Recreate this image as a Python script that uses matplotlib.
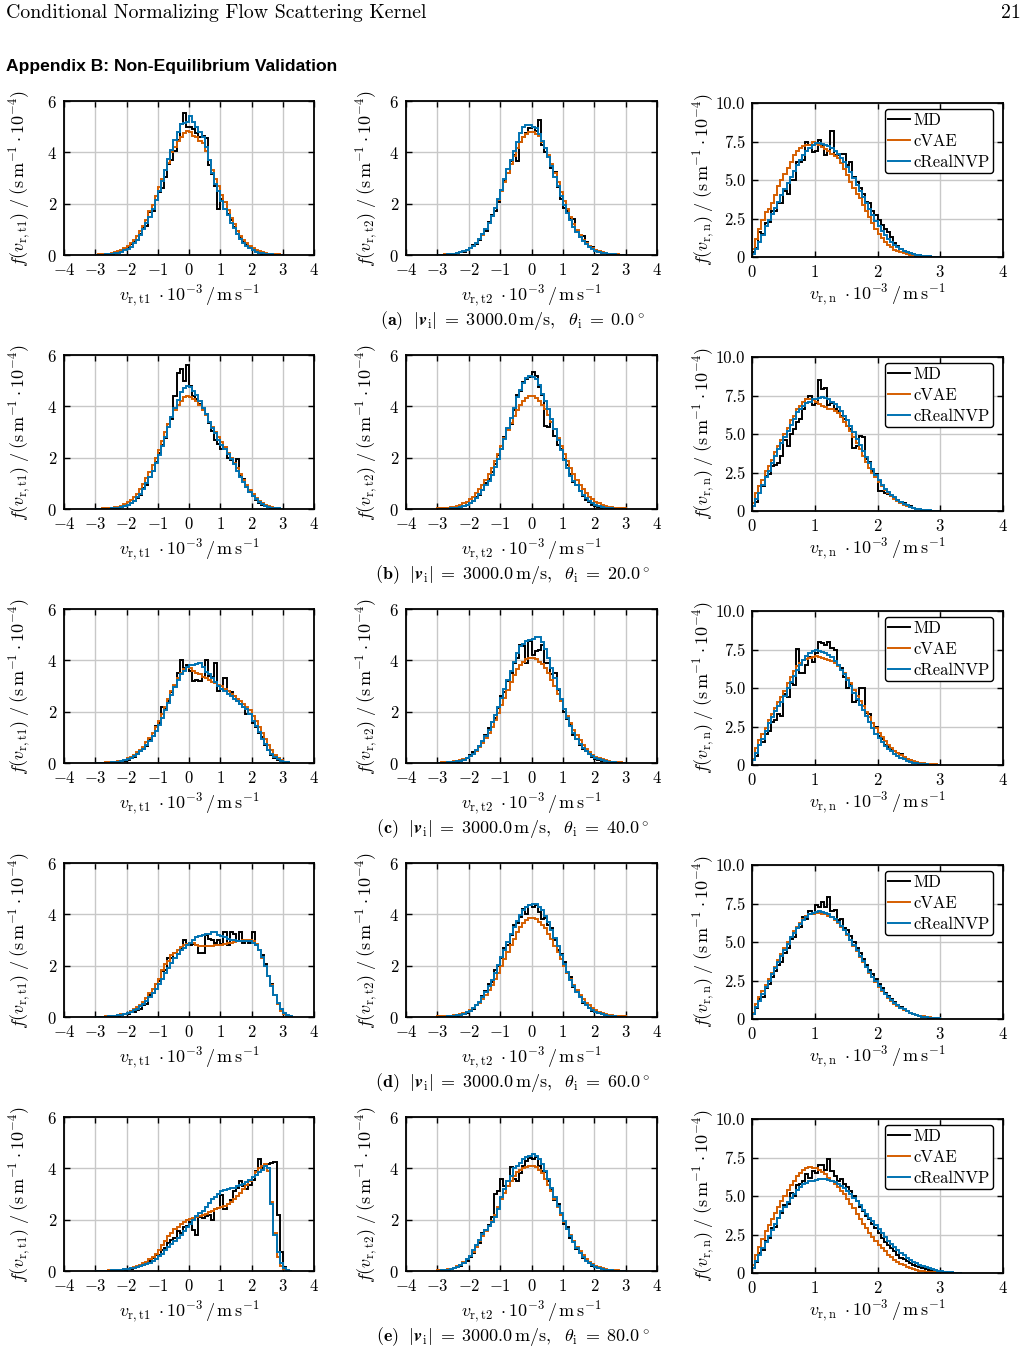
import numpy as np
import matplotlib
matplotlib.use("Agg")
import matplotlib.pyplot as plt
from matplotlib.lines import Line2D

plt.rcParams['font.family'] = ['cmr10', 'DejaVu Serif']
plt.rcParams['mathtext.fontset'] = 'cm'
plt.rcParams['axes.formatter.use_mathtext'] = True
plt.rcParams['axes.unicode_minus'] = True

# ---------------- data ----------------
# tangential components: bins of width 0.1 starting at -3.0 (units 1e3 m/s)
# normal component: bins of width 0.05 starting at 0.0
T_START, T_WIDTH = -3.0, 0.1
N_START, N_WIDTH = 0.0, 0.05

V_IN = 3000.0
THETAS = [0.0, 20.0, 40.0, 60.0, 80.0]
LETTERS = ['a', 'b', 'c', 'd', 'e']
SERIES = ['MD', 'cVAE', 'cRealNVP']

# ---- (a) theta = 0 ----
a_t1_md = [0.00, 0.01, 0.01, 0.02, 0.03, 0.05, 0.07, 0.12, 0.14, 0.22,
           0.30, 0.42, 0.55, 0.58, 0.80, 1.05, 1.12, 1.68, 1.70, 2.15,
           2.45, 2.60, 3.05, 3.55, 3.70, 4.05, 4.50, 5.10, 5.55, 5.00,
           5.00, 4.90, 4.75, 4.60, 4.65, 4.55, 3.50, 3.15, 2.70, 1.80,
           2.20, 2.05, 1.60, 1.35, 1.10, 0.95, 0.72, 0.50, 0.38, 0.32,
           0.20, 0.14, 0.08, 0.05, 0.03, 0.02, 0.01, 0.01, 0.00, 0.00]
a_t1_cvae = [0.01, 0.02, 0.03, 0.04, 0.05, 0.08, 0.11, 0.16, 0.20, 0.27,
             0.36, 0.46, 0.58, 0.74, 0.92, 1.13, 1.38, 1.70, 1.94, 2.30,
             2.65, 2.95, 3.30, 3.60, 4.00, 4.20, 4.45, 4.60, 4.75, 4.85,
             4.80, 4.65, 4.60, 4.45, 4.35, 4.05, 3.70, 3.30, 2.95, 2.70,
             2.35, 2.05, 1.75, 1.45, 1.20, 0.95, 0.75, 0.58, 0.46, 0.36,
             0.27, 0.20, 0.15, 0.11, 0.08, 0.05, 0.04, 0.03, 0.02, 0.01]
a_t1_nvp = [0.00, 0.01, 0.01, 0.02, 0.03, 0.04, 0.06, 0.09, 0.13, 0.18,
            0.25, 0.33, 0.45, 0.60, 0.78, 1.00, 1.25, 1.50, 1.80, 2.15,
            2.50, 2.90, 3.30, 3.75, 4.10, 4.50, 4.80, 5.10, 5.15, 5.20,
            5.40, 5.20, 5.00, 4.80, 4.60, 4.20, 3.70, 3.20, 2.75, 2.50,
            2.10, 1.80, 1.55, 1.25, 1.05, 0.80, 0.62, 0.48, 0.35, 0.26,
            0.19, 0.13, 0.09, 0.06, 0.04, 0.03, 0.02, 0.01, 0.01, 0.00]
a_t2_md = [0.00, 0.01, 0.01, 0.02, 0.03, 0.05, 0.07, 0.10, 0.13, 0.20,
           0.28, 0.38, 0.42, 0.60, 0.80, 0.95, 1.30, 1.55, 1.70, 2.05,
           2.55, 2.90, 3.20, 3.65, 3.90, 3.65, 4.40, 4.60, 4.75, 4.95,
           5.00, 4.85, 5.25, 4.30, 4.00, 3.85, 3.40, 3.25, 2.65, 2.20,
           1.85, 1.70, 1.45, 1.40, 0.95, 0.72, 0.75, 0.50, 0.35, 0.30,
           0.20, 0.14, 0.08, 0.07, 0.05, 0.03, 0.02, 0.01, 0.01, 0.00]
a_t2_cvae = [0.01, 0.01, 0.02, 0.02, 0.03, 0.05, 0.07, 0.10, 0.14, 0.20,
             0.27, 0.36, 0.47, 0.62, 0.79, 1.00, 1.25, 1.52, 1.82, 2.15,
             2.50, 2.85, 3.20, 3.55, 3.85, 4.15, 4.40, 4.60, 4.70, 4.80,
             4.80, 4.70, 4.65, 4.40, 4.15, 3.90, 3.55, 3.20, 2.85, 2.45,
             2.10, 1.80, 1.50, 1.22, 0.98, 0.78, 0.60, 0.47, 0.36, 0.27,
             0.20, 0.14, 0.10, 0.07, 0.05, 0.03, 0.02, 0.02, 0.01, 0.01]
a_t2_nvp = [0.00, 0.01, 0.01, 0.02, 0.03, 0.05, 0.07, 0.10, 0.14, 0.20,
            0.27, 0.37, 0.48, 0.63, 0.80, 1.00, 1.25, 1.52, 1.85, 2.20,
            2.55, 2.95, 3.35, 3.70, 4.05, 4.40, 4.75, 5.00, 5.05, 5.05,
            5.00, 4.95, 4.70, 4.45, 4.15, 3.80, 3.45, 3.05, 2.70, 2.30,
            1.95, 1.65, 1.35, 1.10, 0.90, 0.72, 0.56, 0.42, 0.32, 0.24,
            0.17, 0.12, 0.09, 0.06, 0.04, 0.03, 0.02, 0.01, 0.01, 0.00]
a_n_md = [0.30, 0.60, 1.60, 1.50, 2.20, 2.30, 3.00, 3.00, 3.50, 3.50,
          4.30, 4.10, 5.00, 5.00, 6.20, 6.20, 6.30, 7.50, 7.30, 6.80,
          6.90, 7.60, 7.20, 6.60, 6.90, 8.20, 6.60, 6.60, 6.70, 6.70,
          6.00, 6.20, 5.20, 4.90, 4.50, 4.10, 3.60, 3.50, 3.00, 2.70,
          2.40, 2.10, 1.80, 1.60, 1.30, 0.90, 0.70, 0.50, 0.40, 0.30,
          0.25, 0.20, 0.15, 0.10, 0.08, 0.05, 0.04, 0.03, 0.02, 0.01]
a_n_cvae = [0.50, 1.20, 1.80, 2.40, 2.90, 3.10, 3.50, 4.00, 4.60, 5.00,
            5.40, 5.80, 6.20, 6.60, 6.90, 7.10, 7.20, 7.25, 7.30, 7.50,
            7.35, 7.30, 7.15, 7.00, 6.90, 6.70, 6.55, 6.40, 6.10, 5.70,
            5.30, 4.90, 4.50, 4.10, 3.80, 3.40, 3.00, 2.60, 2.20, 1.85,
            1.50, 1.25, 1.00, 0.80, 0.62, 0.48, 0.38, 0.30, 0.23, 0.17,
            0.13, 0.10, 0.07, 0.05, 0.04, 0.03, 0.02, 0.01, 0.01, 0.00]
a_n_nvp = [0.20, 0.50, 1.00, 1.40, 2.00, 2.40, 2.80, 3.20, 3.60, 4.00,
           4.40, 4.80, 5.20, 5.60, 6.00, 6.30, 6.60, 6.90, 7.10, 7.30,
           7.40, 7.40, 7.35, 7.30, 7.20, 7.10, 6.90, 6.70, 6.45, 6.20,
           5.85, 5.50, 5.10, 4.70, 4.30, 3.90, 3.50, 3.10, 2.70, 2.35,
           2.00, 1.70, 1.45, 1.20, 1.00, 0.80, 0.65, 0.52, 0.40, 0.31,
           0.24, 0.18, 0.13, 0.10, 0.07, 0.05, 0.04, 0.03, 0.02, 0.01]

# ---- (b) theta = 20 ----
b_t1_md = [0.00, 0.00, 0.00, 0.01, 0.01, 0.02, 0.03, 0.04, 0.07, 0.10,
           0.14, 0.22, 0.30, 0.42, 0.55, 0.80, 0.95, 1.25, 1.50, 1.85,
           2.20, 2.50, 2.75, 3.30, 3.50, 4.40, 5.30, 5.45, 5.00, 5.60,
           4.80, 4.40, 4.30, 4.10, 3.90, 3.70, 3.35, 3.05, 2.70, 2.55,
           2.35, 2.40, 2.00, 1.90, 1.80, 1.95, 1.30, 1.15, 0.85, 0.65,
           0.50, 0.35, 0.24, 0.17, 0.10, 0.06, 0.04, 0.02, 0.01, 0.00]
b_t1_cvae = [0.01, 0.01, 0.02, 0.02, 0.03, 0.04, 0.06, 0.09, 0.13, 0.19,
             0.26, 0.35, 0.46, 0.60, 0.77, 0.97, 1.20, 1.45, 1.72, 2.00,
             2.30, 2.65, 3.00, 3.30, 3.60, 3.85, 4.05, 4.20, 4.35, 4.40,
             4.35, 4.30, 4.20, 4.05, 3.85, 3.65, 3.40, 3.20, 3.00, 2.80,
             2.60, 2.40, 2.20, 2.00, 1.80, 1.58, 1.35, 1.12, 0.92, 0.74,
             0.57, 0.43, 0.31, 0.22, 0.15, 0.10, 0.06, 0.04, 0.02, 0.01]
b_t1_nvp = [0.00, 0.00, 0.00, 0.01, 0.01, 0.02, 0.03, 0.05, 0.08, 0.12,
            0.17, 0.24, 0.33, 0.45, 0.60, 0.78, 1.00, 1.25, 1.50, 1.80,
            2.10, 2.45, 2.80, 3.20, 3.60, 3.95, 4.25, 4.55, 4.70, 4.80,
            4.75, 4.60, 4.45, 4.20, 3.95, 3.70, 3.40, 3.15, 2.95, 2.70,
            2.50, 2.35, 2.15, 1.95, 1.75, 1.50, 1.25, 1.05, 0.85, 0.68,
            0.52, 0.38, 0.27, 0.18, 0.12, 0.08, 0.05, 0.03, 0.02, 0.01]
b_t2_md = [0.00, 0.00, 0.01, 0.01, 0.02, 0.03, 0.04, 0.06, 0.10, 0.14,
           0.22, 0.30, 0.45, 0.55, 0.75, 1.00, 1.15, 1.45, 1.75, 2.10,
           2.35, 2.80, 3.10, 3.30, 3.85, 4.45, 4.60, 4.95, 5.05, 5.15,
           5.35, 5.20, 4.75, 4.45, 3.25, 3.20, 3.40, 2.85, 2.50, 2.35,
           1.95, 1.70, 1.35, 1.05, 0.95, 0.70, 0.50, 0.36, 0.28, 0.17,
           0.12, 0.08, 0.05, 0.03, 0.02, 0.01, 0.01, 0.00, 0.00, 0.00]
b_t2_cvae = [0.02, 0.02, 0.04, 0.05, 0.07, 0.09, 0.12, 0.17, 0.22, 0.29,
             0.38, 0.48, 0.61, 0.76, 0.93, 1.13, 1.36, 1.61, 1.87, 2.16,
             2.46, 2.76, 3.06, 3.35, 3.62, 3.86, 4.07, 4.22, 4.34, 4.39,
             4.39, 4.34, 4.22, 4.07, 3.90, 3.68, 3.40, 3.10, 2.78, 2.46,
             2.16, 1.87, 1.61, 1.36, 1.13, 0.93, 0.76, 0.61, 0.48, 0.38,
             0.29, 0.22, 0.17, 0.12, 0.09, 0.07, 0.05, 0.04, 0.02, 0.02]
b_t2_nvp = [0.00, 0.00, 0.01, 0.01, 0.02, 0.03, 0.05, 0.08, 0.12, 0.17,
            0.24, 0.33, 0.44, 0.58, 0.75, 0.95, 1.10, 1.32, 1.62, 1.95,
            2.33, 2.73, 3.15, 3.55, 3.95, 4.35, 4.65, 4.90, 5.10, 5.20,
            5.15, 5.05, 4.85, 4.50, 4.20, 3.90, 3.50, 3.10, 2.70, 2.30,
            1.92, 1.60, 1.30, 1.10, 0.92, 0.72, 0.55, 0.41, 0.30, 0.22,
            0.15, 0.10, 0.07, 0.05, 0.03, 0.02, 0.01, 0.01, 0.00, 0.00]
b_n_md = [0.30, 0.60, 1.60, 1.60, 2.30, 2.40, 2.90, 3.00, 3.10, 3.60,
          4.60, 4.20, 5.00, 5.30, 5.80, 6.00, 6.60, 7.30, 7.50, 6.90,
          7.00, 8.50, 7.90, 8.00, 6.90, 7.00, 6.60, 6.50, 6.20, 6.00,
          5.50, 5.30, 4.10, 4.20, 4.90, 4.80, 3.40, 3.20, 2.60, 2.40,
          1.30, 1.30, 1.20, 1.10, 1.00, 0.85, 0.70, 0.60, 0.50, 0.40,
          0.30, 0.22, 0.16, 0.12, 0.08, 0.05, 0.03, 0.02, 0.01, 0.01]
b_n_cvae = [0.50, 1.20, 1.60, 2.00, 2.60, 2.90, 3.30, 3.80, 4.20, 4.60,
            5.00, 5.40, 5.90, 6.20, 6.60, 6.80, 7.10, 7.30, 7.30, 7.20,
            7.05, 6.95, 6.85, 6.75, 6.65, 6.60, 6.50, 6.35, 6.10, 5.80,
            5.50, 5.20, 4.80, 4.40, 4.00, 3.60, 3.20, 2.80, 2.50, 2.20,
            1.90, 1.60, 1.35, 1.15, 0.95, 0.78, 0.63, 0.50, 0.40, 0.31,
            0.24, 0.18, 0.13, 0.10, 0.07, 0.05, 0.03, 0.02, 0.02, 0.01]
b_n_nvp = [0.30, 0.80, 1.20, 1.70, 2.20, 2.60, 3.10, 3.60, 4.00, 4.40,
           4.80, 5.20, 5.60, 6.00, 6.40, 6.60, 6.80, 7.00, 7.10, 7.25,
           7.30, 7.35, 7.40, 7.35, 7.25, 7.10, 6.95, 6.75, 6.50, 6.20,
           5.90, 5.50, 5.10, 4.70, 4.30, 3.90, 3.50, 3.10, 2.70, 2.35,
           2.00, 1.70, 1.45, 1.25, 1.05, 0.88, 0.72, 0.58, 0.46, 0.36,
           0.28, 0.21, 0.16, 0.12, 0.09, 0.06, 0.04, 0.03, 0.02, 0.01]

# ---- (c) theta = 40 ----
c_t1_md = [0.00, 0.00, 0.00, 0.00, 0.01, 0.01, 0.02, 0.04, 0.06, 0.09,
           0.13, 0.18, 0.25, 0.34, 0.45, 0.55, 0.68, 0.92, 1.05, 1.45,
           1.55, 2.20, 2.10, 2.40, 2.75, 3.00, 3.50, 4.00, 3.70, 3.80,
           3.60, 3.20, 3.25, 3.20, 3.35, 4.00, 3.40, 3.35, 3.90, 2.80,
           2.90, 3.30, 2.80, 2.75, 2.60, 2.40, 2.30, 2.20, 1.90, 1.90,
           1.55, 1.40, 1.15, 1.00, 0.70, 0.50, 0.33, 0.20, 0.12, 0.07,
           0.04, 0.02]
c_t1_cvae = [0.01, 0.01, 0.01, 0.02, 0.02, 0.03, 0.04, 0.06, 0.09, 0.13,
             0.18, 0.24, 0.32, 0.41, 0.52, 0.64, 0.80, 0.98, 1.18, 1.40,
             1.65, 1.92, 2.20, 2.50, 2.80, 3.05, 3.30, 3.50, 3.65, 3.75,
             3.70, 3.60, 3.50, 3.45, 3.35, 3.30, 3.25, 3.15, 3.10, 3.05,
             3.00, 2.90, 2.80, 2.70, 2.60, 2.50, 2.40, 2.30, 2.20, 2.05,
             1.85, 1.62, 1.40, 1.18, 0.95, 0.72, 0.50, 0.32, 0.18, 0.10,
             0.05, 0.02]
c_t1_nvp = [0.00, 0.00, 0.00, 0.01, 0.01, 0.02, 0.03, 0.04, 0.06, 0.10,
            0.15, 0.20, 0.27, 0.35, 0.45, 0.56, 0.70, 0.86, 1.05, 1.25,
            1.50, 1.75, 2.05, 2.35, 2.65, 2.95, 3.25, 3.45, 3.60, 3.75,
            3.80, 3.80, 3.85, 3.90, 3.75, 3.55, 3.45, 3.30, 3.15, 3.00,
            2.90, 2.80, 2.70, 2.60, 2.50, 2.40, 2.30, 2.20, 2.10, 1.90,
            1.65, 1.45, 1.20, 0.95, 0.75, 0.52, 0.35, 0.22, 0.14, 0.07,
            0.04, 0.02]
c_t2_md = [0.00, 0.01, 0.01, 0.02, 0.03, 0.04, 0.05, 0.09, 0.12, 0.20,
           0.30, 0.42, 0.45, 0.65, 0.80, 1.10, 1.35, 1.60, 1.75, 2.15,
           2.60, 2.75, 3.20, 3.50, 3.90, 4.10, 4.60, 4.55, 3.90, 4.75,
           4.20, 4.35, 4.40, 4.60, 3.90, 3.90, 3.45, 3.50, 2.85, 2.40,
           2.00, 1.70, 1.50, 1.10, 0.95, 0.70, 0.55, 0.45, 0.35, 0.25,
           0.17, 0.12, 0.09, 0.06, 0.04, 0.03, 0.02, 0.01, 0.01, 0.00]
c_t2_cvae = [0.01, 0.02, 0.02, 0.03, 0.04, 0.06, 0.08, 0.11, 0.15, 0.21,
             0.28, 0.37, 0.48, 0.62, 0.78, 0.97, 1.18, 1.42, 1.68, 1.96,
             2.25, 2.55, 2.85, 3.15, 3.42, 3.65, 3.82, 3.95, 4.05, 4.10,
             4.10, 4.05, 3.95, 3.85, 3.70, 3.50, 3.25, 3.00, 2.70, 2.40,
             2.10, 1.82, 1.55, 1.30, 1.08, 0.88, 0.70, 0.55, 0.43, 0.33,
             0.25, 0.19, 0.14, 0.10, 0.07, 0.05, 0.04, 0.03, 0.02, 0.01]
c_t2_nvp = [0.00, 0.01, 0.01, 0.02, 0.03, 0.04, 0.06, 0.09, 0.13, 0.19,
            0.27, 0.37, 0.50, 0.65, 0.85, 1.05, 1.30, 1.58, 1.88, 2.20,
            2.55, 2.90, 3.25, 3.60, 3.95, 4.30, 4.55, 4.65, 4.75, 4.80,
            4.85, 4.90, 4.90, 4.70, 4.45, 4.10, 3.70, 3.30, 2.90, 2.50,
            2.10, 1.75, 1.45, 1.18, 0.95, 0.75, 0.58, 0.45, 0.34, 0.26,
            0.19, 0.14, 0.10, 0.07, 0.05, 0.03, 0.02, 0.01, 0.01, 0.00]
c_n_md = [0.40, 0.60, 1.30, 1.50, 2.00, 2.20, 2.80, 2.90, 3.30, 3.20,
          4.60, 4.40, 5.30, 5.20, 7.55, 6.00, 6.00, 6.50, 7.00, 6.70,
          7.30, 8.00, 7.90, 7.80, 8.00, 7.60, 7.50, 6.50, 6.30, 5.70,
          5.00, 5.20, 4.10, 4.20, 5.00, 5.00, 3.40, 3.30, 2.70, 2.50,
          1.90, 1.70, 1.30, 1.20, 1.00, 0.90, 0.80, 0.70, 0.50, 0.40,
          0.30, 0.22, 0.16, 0.12, 0.08, 0.05, 0.03, 0.02, 0.01, 0.01]
c_n_cvae = [0.40, 1.10, 1.60, 2.00, 2.40, 2.90, 3.30, 3.70, 4.10, 4.40,
            4.80, 5.30, 5.70, 6.10, 6.40, 6.60, 6.80, 6.90, 6.95, 7.00,
            7.05, 7.00, 6.95, 6.90, 6.85, 6.75, 6.60, 6.40, 6.20, 5.95,
            5.65, 5.30, 4.90, 4.50, 4.15, 3.80, 3.45, 3.10, 2.75, 2.40,
            2.10, 1.80, 1.55, 1.30, 1.10, 0.92, 0.76, 0.62, 0.50, 0.40,
            0.32, 0.25, 0.20, 0.15, 0.12, 0.09, 0.07, 0.05, 0.04, 0.03]
c_n_nvp = [0.30, 0.80, 1.30, 1.70, 2.20, 2.70, 3.10, 3.50, 3.80, 4.10,
           4.50, 5.00, 5.40, 5.80, 6.20, 6.50, 6.80, 7.10, 7.30, 7.40,
           7.45, 7.40, 7.35, 7.25, 7.15, 7.00, 6.75, 6.50, 6.20, 5.90,
           5.50, 5.10, 4.70, 4.30, 3.90, 3.60, 3.20, 2.80, 2.40, 2.00,
           1.75, 1.50, 1.25, 1.05, 0.88, 0.72, 0.58, 0.46, 0.36, 0.28,
           0.22, 0.16, 0.12, 0.09, 0.06, 0.04, 0.03, 0.02, 0.01, 0.01]

# ---- (d) theta = 60 ----
d_t1_md = [0.00, 0.00, 0.00, 0.01, 0.01, 0.02, 0.03, 0.05, 0.07, 0.10,
           0.12, 0.18, 0.20, 0.28, 0.30, 0.45, 0.50, 0.85, 0.92, 1.30,
           1.40, 1.80, 1.85, 2.30, 2.30, 2.50, 2.45, 2.70, 3.00, 2.80,
           2.80, 2.85, 2.80, 2.50, 2.50, 3.20, 3.05, 3.00, 2.90, 3.00,
           2.85, 3.30, 2.80, 3.30, 3.25, 2.95, 3.30, 2.90, 2.95, 2.90,
           3.30, 2.80, 2.60, 2.40, 2.05, 1.60, 1.30, 0.85, 0.50, 0.30,
           0.12, 0.05, 0.02]
d_t1_cvae = [0.00, 0.01, 0.01, 0.02, 0.02, 0.03, 0.05, 0.07, 0.10, 0.13,
             0.17, 0.23, 0.30, 0.38, 0.48, 0.60, 0.75, 0.92, 1.10, 1.30,
             1.50, 1.85, 2.05, 2.20, 2.40, 2.50, 2.62, 2.72, 2.80, 2.86,
             2.90, 2.88, 2.82, 2.78, 2.75, 2.75, 2.75, 2.78, 2.80, 2.80,
             2.82, 2.85, 2.88, 2.90, 2.93, 2.95, 2.97, 3.00, 3.00, 3.00,
             2.95, 2.85, 2.60, 2.30, 2.00, 1.60, 1.25, 0.85, 0.50, 0.25,
             0.10, 0.04, 0.01]
d_t1_nvp = [0.00, 0.00, 0.01, 0.01, 0.02, 0.03, 0.04, 0.06, 0.08, 0.11,
            0.15, 0.20, 0.26, 0.33, 0.41, 0.50, 0.62, 0.76, 0.92, 1.10,
            1.30, 1.50, 1.70, 1.90, 2.10, 2.30, 2.45, 2.60, 2.70, 2.80,
            2.90, 3.00, 3.10, 3.15, 3.20, 3.25, 3.25, 3.30, 3.30, 3.20,
            3.15, 3.10, 3.05, 3.00, 3.00, 2.98, 2.96, 2.95, 2.95, 2.95,
            2.90, 2.80, 2.60, 2.35, 2.00, 1.60, 1.20, 0.85, 0.55, 0.30,
            0.15, 0.07, 0.03]
d_t2_md = [0.00, 0.01, 0.01, 0.01, 0.02, 0.04, 0.05, 0.08, 0.12, 0.16,
           0.24, 0.30, 0.45, 0.55, 0.80, 1.00, 1.30, 1.35, 1.85, 2.00,
           2.30, 2.70, 2.80, 3.20, 3.60, 3.65, 3.90, 4.20, 4.00, 4.35,
           4.30, 4.35, 4.10, 3.80, 3.85, 3.60, 3.45, 3.00, 2.60, 2.45,
           2.15, 1.70, 1.55, 1.15, 1.00, 0.80, 0.55, 0.50, 0.35, 0.25,
           0.20, 0.14, 0.10, 0.07, 0.04, 0.03, 0.02, 0.01, 0.01, 0.00]
d_t2_cvae = [0.02, 0.02, 0.03, 0.04, 0.05, 0.07, 0.09, 0.12, 0.16, 0.21,
             0.27, 0.35, 0.45, 0.56, 0.70, 0.86, 1.04, 1.25, 1.48, 1.72,
             1.98, 2.25, 2.52, 2.80, 3.05, 3.30, 3.50, 3.65, 3.78, 3.85,
             3.85, 3.80, 3.72, 3.60, 3.45, 3.25, 3.02, 2.78, 2.52, 2.25,
             1.98, 1.72, 1.48, 1.25, 1.04, 0.86, 0.70, 0.56, 0.45, 0.35,
             0.27, 0.21, 0.16, 0.12, 0.09, 0.07, 0.05, 0.04, 0.03, 0.02]
d_t2_nvp = [0.00, 0.01, 0.01, 0.02, 0.03, 0.04, 0.06, 0.09, 0.13, 0.18,
            0.25, 0.34, 0.46, 0.60, 0.78, 0.97, 1.20, 1.45, 1.72, 2.02,
            2.32, 2.62, 2.92, 3.22, 3.50, 3.75, 3.97, 4.15, 4.28, 4.38,
            4.42, 4.40, 4.30, 4.15, 3.95, 3.70, 3.40, 3.08, 2.75, 2.40,
            2.05, 1.75, 1.46, 1.20, 0.97, 0.77, 0.60, 0.46, 0.35, 0.26,
            0.19, 0.14, 0.10, 0.07, 0.05, 0.03, 0.02, 0.01, 0.01, 0.00]
d_n_md = [0.30, 0.70, 1.30, 1.40, 2.00, 2.30, 2.70, 3.10, 3.50, 3.70,
          4.30, 4.60, 5.20, 5.30, 5.90, 6.00, 6.60, 6.50, 7.00, 6.80,
          7.40, 7.30, 7.60, 7.30, 7.90, 7.00, 7.10, 6.40, 6.50, 5.90,
          5.80, 5.40, 5.00, 4.60, 4.30, 3.90, 3.50, 3.20, 2.90, 2.60,
          2.30, 2.00, 1.70, 1.50, 1.30, 1.10, 0.90, 0.80, 0.65, 0.50,
          0.42, 0.35, 0.28, 0.22, 0.16, 0.12, 0.09, 0.06, 0.04, 0.03]
d_n_cvae = [0.40, 1.00, 1.40, 1.80, 2.20, 2.60, 3.00, 3.40, 3.80, 4.20,
            4.60, 5.00, 5.35, 5.70, 6.00, 6.25, 6.50, 6.70, 6.80, 6.85,
            6.90, 6.90, 6.85, 6.80, 6.70, 6.60, 6.45, 6.25, 6.00, 5.75,
            5.45, 5.10, 4.75, 4.40, 4.05, 3.70, 3.35, 3.00, 2.70, 2.40,
            2.10, 1.85, 1.60, 1.38, 1.18, 1.00, 0.85, 0.72, 0.60, 0.50,
            0.41, 0.33, 0.27, 0.21, 0.17, 0.13, 0.10, 0.08, 0.06, 0.04]
d_n_nvp = [0.30, 0.80, 1.20, 1.60, 2.10, 2.50, 2.90, 3.30, 3.70, 4.10,
           4.50, 4.90, 5.30, 5.60, 5.90, 6.20, 6.45, 6.65, 6.80, 6.90,
           6.95, 7.00, 6.95, 6.90, 6.80, 6.65, 6.50, 6.30, 6.05, 5.80,
           5.50, 5.15, 4.80, 4.45, 4.10, 3.75, 3.40, 3.05, 2.75, 2.45,
           2.15, 1.90, 1.65, 1.42, 1.22, 1.04, 0.88, 0.74, 0.62, 0.51,
           0.42, 0.34, 0.27, 0.21, 0.16, 0.12, 0.09, 0.07, 0.05, 0.04]

# ---- (e) theta = 80 ----
e_t1_md = [0.00, 0.00, 0.00, 0.01, 0.01, 0.01, 0.02, 0.02, 0.03, 0.04,
           0.06, 0.08, 0.10, 0.14, 0.18, 0.25, 0.30, 0.40, 0.50, 0.62,
           0.62, 0.80, 0.90, 1.10, 1.20, 1.30, 1.55, 1.50, 1.70, 1.75,
           1.90, 1.60, 1.40, 2.10, 2.05, 2.15, 2.20, 2.00, 2.40, 2.45,
           2.95, 2.40, 2.60, 2.75, 3.10, 3.25, 3.50, 3.30, 3.20, 3.35,
           3.55, 3.90, 4.35, 4.00, 4.10, 4.15, 4.20, 4.25, 2.20, 0.75,
           0.15, 0.03, 0.00]
e_t1_cvae = [0.00, 0.01, 0.01, 0.01, 0.02, 0.02, 0.03, 0.04, 0.05, 0.07,
             0.09, 0.12, 0.15, 0.19, 0.24, 0.30, 0.37, 0.45, 0.55, 0.67,
             0.82, 1.00, 1.18, 1.35, 1.50, 1.62, 1.73, 1.82, 1.90, 1.97,
             2.02, 2.07, 2.10, 2.13, 2.17, 2.22, 2.28, 2.34, 2.40, 2.45,
             2.50, 2.55, 2.62, 2.70, 2.80, 2.92, 3.05, 3.20, 3.35, 3.50,
             3.65, 3.85, 4.00, 4.10, 4.15, 3.90, 2.70, 1.50, 0.55, 0.20,
             0.07, 0.02, 0.01]
e_t1_nvp = [0.00, 0.00, 0.01, 0.01, 0.01, 0.02, 0.02, 0.03, 0.04, 0.06,
            0.08, 0.10, 0.12, 0.15, 0.18, 0.22, 0.27, 0.33, 0.40, 0.48,
            0.57, 0.68, 0.80, 0.93, 1.05, 1.18, 1.30, 1.42, 1.55, 1.70,
            1.85, 2.00, 2.15, 2.25, 2.35, 2.50, 2.65, 2.80, 2.90, 3.00,
            3.10, 3.15, 3.20, 3.22, 3.25, 3.30, 3.35, 3.40, 3.45, 3.55,
            3.65, 3.75, 3.85, 3.95, 4.10, 4.00, 2.60, 1.40, 0.75, 0.30,
            0.10, 0.04, 0.01]
e_t2_md = [0.01, 0.01, 0.02, 0.04, 0.06, 0.10, 0.14, 0.20, 0.30, 0.40,
           0.55, 0.70, 0.95, 1.10, 1.50, 1.60, 1.80, 2.10, 3.00, 3.10,
           3.60, 3.30, 3.30, 4.05, 3.60, 3.50, 3.80, 4.10, 4.30, 4.40,
           4.35, 4.45, 4.10, 3.90, 3.85, 3.50, 3.20, 2.75, 2.60, 2.20,
           1.85, 1.70, 1.30, 1.15, 0.85, 0.70, 0.50, 0.42, 0.30, 0.20,
           0.15, 0.10, 0.07, 0.05, 0.03, 0.02, 0.01, 0.01, 0.00, 0.00]
e_t2_cvae = [0.02, 0.03, 0.04, 0.06, 0.09, 0.13, 0.18, 0.25, 0.34, 0.45,
             0.58, 0.75, 0.95, 1.15, 1.35, 1.55, 1.75, 1.95, 2.20, 2.50,
             2.80, 3.05, 3.30, 3.50, 3.70, 3.85, 3.95, 4.00, 4.05, 4.10,
             4.10, 4.05, 3.95, 3.80, 3.60, 3.35, 3.10, 2.80, 2.50, 2.20,
             1.92, 1.65, 1.40, 1.16, 0.95, 0.77, 0.62, 0.48, 0.37, 0.28,
             0.21, 0.15, 0.11, 0.08, 0.05, 0.04, 0.03, 0.02, 0.01, 0.01]
e_t2_nvp = [0.01, 0.02, 0.03, 0.05, 0.08, 0.12, 0.17, 0.24, 0.33, 0.45,
            0.60, 0.80, 1.00, 1.20, 1.45, 1.60, 1.75, 1.90, 2.10, 2.40,
            2.90, 3.20, 3.50, 3.70, 4.00, 4.10, 4.20, 4.35, 4.45, 4.50,
            4.55, 4.50, 4.35, 4.15, 3.90, 3.60, 3.25, 2.90, 2.55, 2.25,
            1.95, 1.65, 1.38, 1.12, 0.90, 0.70, 0.53, 0.40, 0.30, 0.22,
            0.16, 0.11, 0.08, 0.05, 0.03, 0.02, 0.01, 0.01, 0.00, 0.00]
e_n_md = [0.30, 0.70, 1.30, 1.50, 2.10, 2.30, 2.90, 3.00, 3.60, 3.90,
          4.40, 4.50, 5.20, 5.00, 5.70, 5.80, 6.00, 6.40, 6.20, 6.60,
          6.50, 7.00, 7.00, 6.70, 7.40, 6.60, 6.30, 6.00, 6.10, 5.80,
          5.60, 5.30, 5.00, 4.70, 4.30, 4.00, 3.70, 3.50, 3.20, 2.90,
          2.60, 2.30, 2.00, 1.80, 1.60, 1.40, 1.20, 1.00, 0.90, 0.80,
          0.65, 0.55, 0.45, 0.36, 0.30, 0.24, 0.18, 0.14, 0.10, 0.08,
          0.06, 0.04, 0.03, 0.02, 0.01]
e_n_cvae = [0.50, 1.20, 1.70, 2.20, 2.70, 3.10, 3.50, 3.90, 4.30, 4.70,
            5.00, 5.40, 5.70, 6.00, 6.30, 6.50, 6.70, 6.85, 6.90, 6.85,
            6.80, 6.70, 6.55, 6.40, 6.20, 6.00, 5.80, 5.60, 5.35, 5.10,
            4.80, 4.50, 4.20, 3.85, 3.50, 3.20, 2.90, 2.60, 2.35, 2.10,
            1.85, 1.60, 1.40, 1.20, 1.02, 0.86, 0.72, 0.60, 0.50, 0.41,
            0.33, 0.26, 0.20, 0.16, 0.12, 0.09, 0.07, 0.05, 0.04, 0.03,
            0.02, 0.01, 0.01]
e_n_nvp = [0.30, 0.80, 1.20, 1.60, 2.00, 2.40, 2.80, 3.20, 3.60, 4.00,
           4.30, 4.60, 4.90, 5.15, 5.40, 5.60, 5.75, 5.85, 5.95, 6.00,
           6.05, 6.10, 6.10, 6.10, 6.05, 6.00, 5.90, 5.80, 5.65, 5.50,
           5.30, 5.10, 4.90, 4.65, 4.40, 4.10, 3.85, 3.60, 3.35, 3.10,
           2.85, 2.60, 2.35, 2.10, 1.90, 1.70, 1.50, 1.32, 1.15, 1.00,
           0.86, 0.74, 0.63, 0.53, 0.45, 0.37, 0.30, 0.25, 0.20, 0.16,
           0.12, 0.09, 0.07, 0.05, 0.03, 0.02, 0.01]

ROWS = [
    [(a_t1_md, a_t1_cvae, a_t1_nvp), (a_t2_md, a_t2_cvae, a_t2_nvp), (a_n_md, a_n_cvae, a_n_nvp)],
    [(b_t1_md, b_t1_cvae, b_t1_nvp), (b_t2_md, b_t2_cvae, b_t2_nvp), (b_n_md, b_n_cvae, b_n_nvp)],
    [(c_t1_md, c_t1_cvae, c_t1_nvp), (c_t2_md, c_t2_cvae, c_t2_nvp), (c_n_md, c_n_cvae, c_n_nvp)],
    [(d_t1_md, d_t1_cvae, d_t1_nvp), (d_t2_md, d_t2_cvae, d_t2_nvp), (d_n_md, d_n_cvae, d_n_nvp)],
    [(e_t1_md, e_t1_cvae, e_t1_nvp), (e_t2_md, e_t2_cvae, e_t2_nvp), (e_n_md, e_n_cvae, e_n_nvp)],
]

# ---------------- style / layout ----------------
COLORS = ['#000000', '#d55e00', '#0173b2']
FW, FH = 1027, 1353
COL_X = [64, 406, 752]
COL_W = [250, 251, 251]
ROW_TOP = [101, 355, 609, 863, 1117]
AX_H = 154
CAP_Y = [320, 574, 828, 1082, 1336]
COMP = ['r,t1', 'r,t2', 'r,n']
YLAB_X = [-0.124, -0.104, -0.14]
XLAB_Y = [-0.266, -0.266, -0.245]
FS = 12
LFS = 13

fig = plt.figure(figsize=(FW / 100, FH / 100), dpi=100)

fig.text(6 / FW, 1 - 13 / FH, 'Conditional Normalizing Flow Scattering Kernel',
         fontsize=14.3, va='center', ha='left')
fig.text(1021 / FW, 1 - 13 / FH, '21', fontsize=14.3, va='center', ha='right')
fig.text(6 / FW, 1 - 66 / FH, 'Appendix B: Non-Equilibrium Validation',
         fontsize=12.6, fontweight='bold', family='Liberation Sans',
         va='center', ha='left')

for r in range(5):
    for c in range(3):
        top = ROW_TOP[r] + (2 if c == 2 else 0)
        ax = fig.add_axes([COL_X[c] / FW, 1 - (top + AX_H) / FH,
                           COL_W[c] / FW, AX_H / FH])
        is_n = (c == 2)
        start, width = (N_START, N_WIDTH) if is_n else (T_START, T_WIDTH)
        for vals, col in zip(ROWS[r][c], COLORS):
            vals = np.asarray(vals)
            edges = start + width * np.arange(len(vals) + 1)
            ax.stairs(vals, edges, baseline=0, color=col, lw=1.4)
        if is_n:
            ax.set_xlim(0, 4)
            ax.set_ylim(0, 10)
            ax.set_xticks([0, 1, 2, 3, 4])
            ax.set_yticks([0, 2.5, 5, 7.5, 10])
            ax.set_yticklabels(['0', '2.5', '5.0', '7.5', '10.0'])
        else:
            ax.set_xlim(-4, 4)
            ax.set_ylim(0, 6)
            ax.set_xticks(np.arange(-4, 5))
            ax.set_yticks([0, 2, 4, 6])
        ax.grid(True, color='#c8c8c8', lw=1.0)
        ax.set_axisbelow(True)
        ax.tick_params(direction='in', length=4, width=1.0, top=True, right=True,
                       labelsize=FS)
        ax.tick_params(axis='x', pad=5)
        ax.tick_params(axis='y', pad=5)
        for s in ax.spines.values():
            s.set_linewidth(1.3)
        comp = COMP[c]
        ax.set_xlabel(r'$v_{\mathrm{' + comp + r'}}\;\cdot 10^{-3}\,/\,\mathrm{m\,s^{-1}}$',
                      fontsize=LFS, va='center')
        ax.xaxis.set_label_coords(0.5, XLAB_Y[c])
        ax.set_ylabel(r'$f(v_{\mathrm{' + comp + r'}})\;/\;(\mathrm{s\,m^{-1}}\cdot 10^{-4})$',
                      fontsize=LFS)
        ax.yaxis.set_label_coords(YLAB_X[c], 0.5)
        if is_n:
            handles = [Line2D([], [], color=col, lw=1.4) for col in COLORS]
            leg = ax.legend(handles, SERIES, loc='upper right',
                            bbox_to_anchor=(0.96, 0.96), borderaxespad=0.0,
                            fontsize=FS, handlelength=1.3, handletextpad=0.2,
                            borderpad=0.2, labelspacing=0.35, fancybox=True,
                            framealpha=1.0, edgecolor='black')
            leg.get_frame().set_linewidth(1.0)

    cap = (r'$\mathbf{(' + LETTERS[r] + r')}\ \ |\boldsymbol{v}_{\mathrm{i}}|\;=\;'
           + f'{V_IN:.1f}' + r'\,\mathrm{m/s},\ \ \theta_{\mathrm{i}}\;=\;'
           + f'{THETAS[r]:.1f}' + r'\,^{\circ}$')
    fig.text(513 / FW, 1 - CAP_Y[r] / FH, cap, fontsize=LFS, ha='center', va='center')

fig.savefig('out.png', dpi=100)
